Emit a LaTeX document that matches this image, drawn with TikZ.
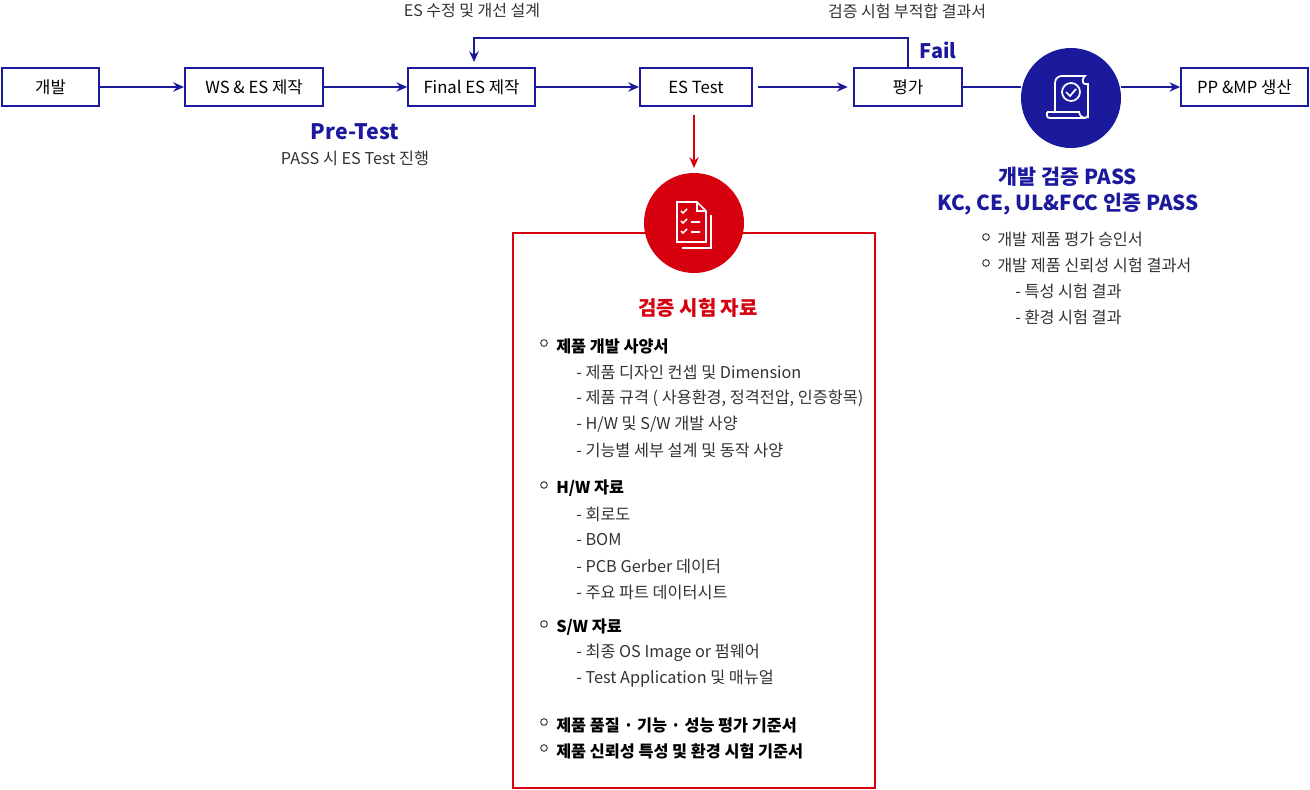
\documentclass[tikz,border=0pt]{standalone}
\usepackage{fontspec}
\setmainfont{Noto Sans CJK KR}
\usetikzlibrary{arrows.meta}
\definecolor{nblue}{HTML}{1C1A9C}
\definecolor{nred}{HTML}{D7000F}
\definecolor{ntxt}{HTML}{333333}
\tikzset{
 box/.style={draw=nblue,line width=1.5pt,minimum height=28.5pt,inner sep=0pt,text=black,font=\fontsize{12.5}{14}\selectfont},
 flow/.style={draw=nblue,line width=2pt,-{Stealth[length=8pt,width=7pt]}},
 lt/.style={anchor=west,inner sep=0pt,text=ntxt,font=\fontsize{12.2}{14}\selectfont},
 lb/.style={lt,text=black,font=\fontsize{12.2}{14}\selectfont\bfseries},
 bul/.style={circle,draw=ntxt,line width=0.7pt,minimum size=5pt,inner sep=0pt},
}
\begin{document}
\begin{tikzpicture}[x=0.75pt,y=-0.75pt]
\useasboundingbox (0,0) rectangle (1310,789);
\node[box,minimum width=73pt] (b1) at (50.5,87) {개발};
\node[box,minimum width=103.5pt] (b2) at (254,87) {WS \& ES 제작};
\node[box,minimum width=95pt] (b3) at (471.5,87) {Final ES 제작};
\node[box,minimum width=84pt] (b4) at (696,87) {ES Test};
\node[box,minimum width=81pt] (b5) at (908,87) {평가};
\node[box,minimum width=95pt] (b6) at (1244.5,87) {PP \&MP 생산};
\draw[nred,line width=1.3pt] (513,233) rectangle (875,788);
\node[circle,fill=nblue,minimum size=75pt,inner sep=0pt] (c1) at (1071,98) {};
\node[circle,fill=nred,minimum size=75pt,inner sep=0pt] (c2) at (694,223) {};
\draw[flow] (b1) -- (b2);
\draw[flow] (b2) -- (b3);
\draw[flow] (b3) -- (b4);
\draw[flow] ([xshift=4pt]b4.east) -- ([xshift=-4pt]b5.west);
\draw[nblue,line width=2pt] (b5.east) -- (c1.west |- b5.east);
\draw[flow] (c1.east |- b6.west) -- (b6.west);
\draw[flow] (908,68) |- (474,38) -- (474,62);
\draw[nred,line width=2pt,-{Stealth[length=8pt,width=7pt]}] (694,115) -- (694,168);
\node[font=\fontsize{12}{14}\selectfont,text=ntxt] (t1) at (472,11) {ES 수정 및 개선 설계};
\node[font=\fontsize{12}{14}\selectfont,text=ntxt] (t2) at (907,11) {검증 시험 부적합 결과서};
\node[font=\fontsize{15}{17}\selectfont\bfseries,text=nblue] (fail) at (938,50) {Fail};
\node[font=\fontsize{16}{18}\selectfont\bfseries,text=nblue] (pt) at (355,132) {Pre-Test};
\node[font=\fontsize{12.2}{14}\selectfont,text=ntxt] (pt2) at (355,158) {PASS 시 ES Test 진행};
% blue icon
\begin{scope}[white,line width=1.3pt]
\draw (1055,112) -- (1055,83) .. controls (1055,77) and (1060,76) .. (1062,76) -- (1085,76) .. controls (1082,78) and (1082,84) .. (1085,84) -- (1088,84) -- (1088,118);
\draw (1047,112) -- (1079,112) .. controls (1080,116) and (1082,118) .. (1085,118) .. controls (1087,118) and (1088,116) .. (1088,114);
\draw (1047,112) -- (1047,116) .. controls (1047,117) and (1048,118) .. (1050,118) -- (1085,118);
\draw (1071,92) circle (9);
\draw (1066,92) -- (1070,96) -- (1076,89);
\end{scope}
% red icon
\begin{scope}[white,line width=1.3pt]
\draw (677,242) -- (677,202) -- (697,202) -- (706,211) -- (706,242) -- cycle;
\draw (697,202) -- (697,211) -- (706,211);
\draw (711,215) -- (711,248) -- (682,248);
\draw (681,211) -- (683,213) -- (687,209);
\draw (681,221) -- (683,223) -- (687,219) (691,222) -- (700,222);
\draw (681,231) -- (683,233) -- (687,229) (691,232) -- (700,232);
\end{scope}
\node[font=\fontsize{15}{17}\selectfont\bfseries,text=nred] (rt) at (698,308) {검증 시험 자료};
% left list
\foreach \y/\t in {346/{제품 개발 사양서},488/{H/W 자료},627/{S/W 자료},725/{제품 품질 · 기능 · 성능 평가 기준서},751/{제품 신뢰성 특성 및 환경 시험 기준서}}{
 \node[bul] at (544,\y-3) {};
 \node[lb] at (556,\y) {\t};}
\foreach \y/\t in {372/{- 제품 디자인 컨셉 및 Dimension},398/{- 제품 규격 ( 사용환경, 정격전압, 인증항목)},424/{- H/W 및 S/W 개발 사양},450/{- 기능별 세부 설계 및 동작 사양},514/{- 회로도},540/{- BOM},566/{- PCB Gerber 데이터},592/{- 주요 파트 데이터시트},653/{- 최종 OS Image or 펌웨어},679/{- Test Application 및 매뉴얼}}{
 \node[lt] at (576,\y) {\t};}
% right text
\node[font=\fontsize{15.5}{19}\selectfont\bfseries,text=nblue,align=center] (rt2) at (1068,191) {개발 검증 PASS\\KC, CE, UL\&FCC 인증 PASS};
\foreach \y/\t in {239/{개발 제품 평가 승인서},265/{개발 제품 신뢰성 시험 결과서}}{
 \node[bul] at (986,\y-2) {};
 \node[lt] at (997,\y) {\t};}
\foreach \y/\t in {291/{- 특성 시험 결과},317/{- 환경 시험 결과}}{
 \node[lt] at (1015,\y) {\t};}
\end{tikzpicture}
\end{document}
